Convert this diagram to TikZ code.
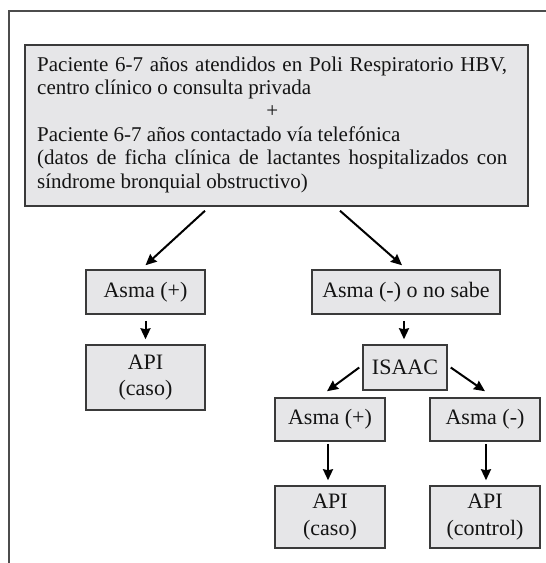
\documentclass[tikz,border=0pt]{standalone}
\usepackage{fontspec}
\setmainfont{Liberation Serif}
\usetikzlibrary{arrows.meta}
\definecolor{boxfill}{HTML}{E6E6E8}
\definecolor{boxline}{HTML}{3A3A3A}
\definecolor{txt}{HTML}{141414}
\tikzset{
  gbox/.style={draw=boxline, line width=1.5pt, fill=boxfill, inner sep=0pt, align=center,
    text=txt, font=\fontsize{22}{26.5}\selectfont},
  arr/.style={line width=2pt, -{Stealth[length=11pt,width=10pt,inset=1pt]}},
  frame/.style={draw=black!70, line width=1.2pt}
}
\begin{document}
\begin{tikzpicture}[x=1pt,y=-1pt]
\useasboundingbox (0,0) rectangle (546,563);
\draw[frame] (546,11) -- (9,11) -- (9,563);
% main box
\node[gbox, minimum width=503pt, minimum height=161pt] (main) at (276.5,125.5) {};
\node[anchor=west, inner sep=0pt, text width=470pt, align=justify, text=txt,
  font=\fontsize{21}{23.4}\selectfont] (maintxt) at (37,124.5)
  {Paciente 6-7 años atendidos en Poli Respiratorio HBV,\linebreak
   centro clínico o consulta privada\\
   \makebox[\linewidth]{+}\\
   Paciente 6-7 años contactado vía telefónica\\
   (datos de ficha clínica de lactantes hospitalizados con\linebreak
   síndrome bronquial obstructivo)};
% left branch
\node[gbox, minimum width=119pt, minimum height=44pt] (asmaL) at (145.5,292) {Asma (+)};
\node[gbox, minimum width=119pt, minimum height=65pt] (apiL) at (145.5,377.5) {API\\(caso)};
% right branch
\node[gbox, minimum width=188pt, minimum height=44pt] (asmaN) at (406,292) {Asma (-) o no sabe};
\node[gbox, minimum width=84pt, minimum height=45pt] (isaac) at (405,367.5) {ISAAC};
\node[gbox, minimum width=110pt, minimum height=43pt] (asmaP2) at (330,419.5) {Asma (+)};
\node[gbox, minimum width=110pt, minimum height=43pt] (asmaN2) at (485,419.5) {Asma (-)};
\node[gbox, minimum width=110pt, minimum height=62pt] (apiC) at (330,517) {API\\(caso)};
\node[gbox, minimum width=110pt, minimum height=62pt] (apiK) at (485,517) {API\\(control)};
% connectors
\draw[arr] ([xshift=-71.5pt,yshift=-4pt]main.south) -- ([yshift=4pt]asmaL.north);
\draw[arr] ([xshift=63.5pt,yshift=-4pt]main.south) -- ([xshift=-4pt,yshift=4pt]asmaN.north);
\draw[arr] ([yshift=-6pt]asmaL.south) -- ([yshift=5pt]apiL.north);
\draw[arr] ([xshift=-2pt,yshift=-6pt]asmaN.south) -- ([xshift=-1pt,yshift=5pt]isaac.north);
\draw[arr] ([xshift=-3pt]isaac.west) -- ([xshift=-3pt,yshift=6pt]asmaP2.north);
\draw[arr] ([xshift=3pt]isaac.east) -- ([xshift=0pt,yshift=6pt]asmaN2.north);
\draw[arr] ([xshift=-2pt,yshift=-2pt]asmaP2.south) -- ([xshift=-2pt,yshift=5pt]apiC.north);
\draw[arr] ([xshift=1pt,yshift=-2pt]asmaN2.south) -- ([xshift=1pt,yshift=5pt]apiK.north);
\end{tikzpicture}
\end{document}
